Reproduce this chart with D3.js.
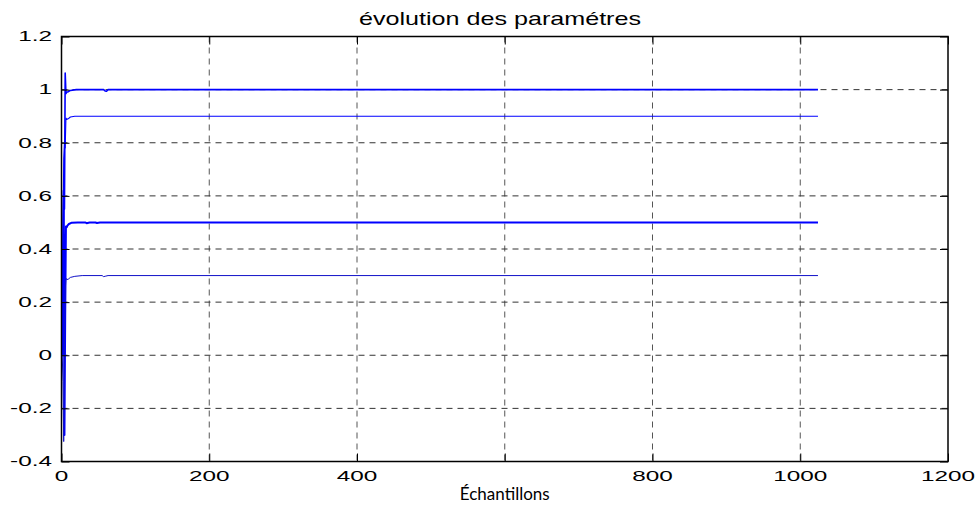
<!DOCTYPE html>
<html>
<head>
<meta charset="utf-8">
<script src="https://cdn.jsdelivr.net/npm/d3@7"></script>
<style>
  html, body { margin: 0; padding: 0; background: #fff; }
  svg { display: block; }
</style>
</head>
<body>
<svg id="chart" width="980" height="506"></svg>
<script>
// ---- data ----
const title = "évolution des paramétres";
const xLabel = "Échantillons";
const nSamples = 1024;
const xTicks = [0, 200, 400, 600, 800, 1000, 1200];
const xTickLabels = ["0", "200", "400", "", "800", "1000", "1200"];
const yTicks = [-0.4, -0.2, 0, 0.2, 0.4, 0.6, 0.8, 1, 1.2];
const yTickLabels = ["-0.4", "-0.2", "0", "0.2", "0.4", "0.6", "0.8", "1", "1.2"];

// parameter estimates: [sample, value] observations
const param1 = [[1,0],[2,0.35],[3,0.62],[4,0.55],[5,1.062],[6,0.985],[7,0.99],[9,0.992],[12,0.997],[20,1.0],[57,1.0],[59,0.995],[61,0.994],[63,1.0],[1024,1.0]];
const param2 = [[1,0],[2,0.45],[3,0.74],[4,0.8],[5,0.78],[6,0.893],[7,0.888],[9,0.89],[12,0.897],[18,0.9],[1024,0.9]];
const param3 = [[1,0],[2,0.25],[3,0.62],[4,-0.30],[5,0.15],[6,0.485],[7,0.482],[8,0.488],[10,0.494],[14,0.499],[22,0.5],[32,0.5],[34,0.497],[38,0.5],[46,0.5],[48,0.498],[52,0.5],[1024,0.5]];
const param4 = [[1,0],[2,-0.1],[3,-0.325],[4,0.05],[5,0.24],[6,0.29],[7,0.285],[9,0.286],[12,0.293],[18,0.297],[28,0.3],[55,0.3],[57,0.296],[60,0.298],[63,0.3],[1024,0.3]];
const series = [param1, param2, param3, param4];
const seriesWidth = [1.6, 1.1, 2.0, 1.0];
const seriesColor = ["#0000ff", "#0000ff", "#0000ff", "#1010c8"];

// ---- layout ----
const svg = d3.select("#chart");
const L = 61.5, R = 948, T = 36.5, B = 461.5;
const x = d3.scaleLinear().domain([0, 1200]).range([L, R]);
const y = d3.scaleLinear().domain([-0.4, 1.2]).range([B, T]);
const tickLen = 8;
const font = "'Liberation Sans', Arial, Helvetica, sans-serif";
const labelSize = 15.4, labelStretch = 1.58;

// grid
const grid = svg.append("g");
grid.selectAll("line.gx").data(xTicks.filter(v => v > 0 && v < 1200)).enter().append("line")
  .attr("x1", d => x(d)).attr("x2", d => x(d)).attr("y1", T).attr("y2", B)
  .attr("stroke", "#555").attr("stroke-width", 1).attr("stroke-dasharray", "6,5");
grid.selectAll("line.gy").data(yTicks.filter(v => v > -0.4 && v < 1.2)).enter().append("line")
  .attr("x1", L).attr("x2", R).attr("y1", d => y(d)).attr("y2", d => y(d))
  .attr("stroke", "#333").attr("stroke-width", 1).attr("stroke-dasharray", "6,5");

// series
const line = d3.line().x(d => x(d[0])).y(d => y(d[1]));
series.forEach((s, i) => {
  svg.append("path").datum(s).attr("d", line)
    .attr("fill", "none").attr("stroke", seriesColor[i])
    .attr("stroke-width", seriesWidth[i]).attr("stroke-linejoin", "round");
});

// axes (ticks inward, on all four sides)
const axB = d3.axisBottom(x).tickValues(xTicks).tickSize(-tickLen).tickFormat("");
const axT = d3.axisTop(x).tickValues(xTicks).tickSize(-tickLen).tickFormat("");
const axL = d3.axisLeft(y).tickValues(yTicks).tickSize(-tickLen).tickFormat("");
const axR = d3.axisRight(y).tickValues(yTicks).tickSize(-tickLen).tickFormat("");
function style(g) {
  g.select(".domain").remove();
  g.selectAll(".tick line").attr("stroke", "#000").attr("stroke-width", 1);
}
svg.append("g").attr("transform", `translate(0,${B})`).call(axB).call(style);
svg.append("g").attr("transform", `translate(0,${T})`).call(axT).call(style);
svg.append("g").attr("transform", `translate(${L},0)`).call(axL).call(style);
svg.append("g").attr("transform", `translate(${R},0)`).call(axR).call(style);

// tick labels (wide glyphs as in the reference)
svg.append("g").selectAll("text").data(xTicks).enter().append("text")
  .attr("transform", d => `translate(${x(d)},481) scale(${labelStretch},1)`)
  .attr("text-anchor", "middle").style("font-family", font).style("font-size", labelSize + "px")
  .attr("fill", "#000").text((d, i) => xTickLabels[i]);
svg.append("g").selectAll("text").data(yTicks).enter().append("text")
  .attr("transform", d => `translate(52,${y(d) + 4.8}) scale(${labelStretch},1)`)
  .attr("text-anchor", "end").style("font-family", font).style("font-size", labelSize + "px")
  .attr("fill", "#000").text((d, i) => yTickLabels[i]);

// frame
svg.append("rect").attr("x", L).attr("y", T).attr("width", R - L).attr("height", B - T)
  .attr("fill", "none").attr("stroke", "#000").attr("stroke-width", 1.5);

// title and label
svg.append("text").attr("x", 500).attr("y", 25).attr("text-anchor", "middle")
  .attr("textLength", 282).attr("lengthAdjust", "spacingAndGlyphs")
  .style("font-family", font).style("font-size", "19px").attr("fill", "#000").text(title);
svg.append("text").attr("x", (L + R) / 2).attr("y", 500).attr("text-anchor", "middle")
  .style("font-family", "Lato, 'Open Sans', sans-serif").style("font-size", "17px").attr("fill", "#000").text(xLabel);
</script>
</body>
</html>
